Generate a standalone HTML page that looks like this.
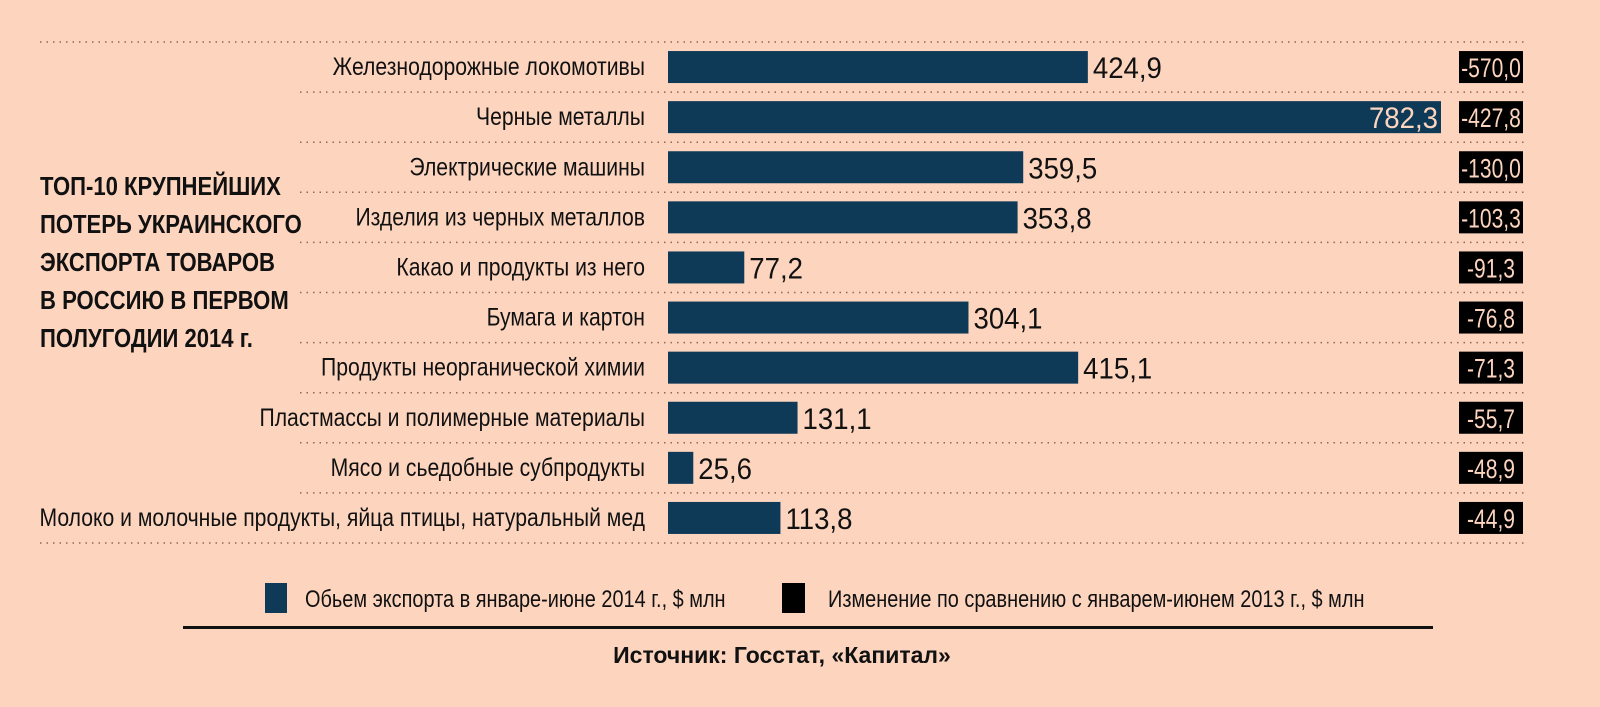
<!DOCTYPE html>
<html><head><meta charset="utf-8"><style>
html,body{margin:0;padding:0;background:#fdd5bf;overflow:hidden;width:1600px;height:707px;}
svg{display:block;font-family:"Liberation Sans",sans-serif;}
</style></head><body>
<svg id="c" width="1600" height="707" viewBox="0 0 1600 707">
<rect width="1600" height="707" fill="#fdd5bf"/>
<g font-weight="bold" font-size="26" fill="#111">
<text transform="translate(40,195) scale(0.85,1)">ТОП-10 КРУПНЕЙШИХ</text>
<text transform="translate(40,233) scale(0.85,1)">ПОТЕРЬ УКРАИНСКОГО</text>
<text transform="translate(40,271) scale(0.85,1)">ЭКСПОРТА ТОВАРОВ</text>
<text transform="translate(40,309) scale(0.85,1)">В РОССИЮ В ПЕРВОМ</text>
<text transform="translate(40,347) scale(0.85,1)">ПОЛУГОДИИ 2014 г.</text>
</g>
<g id="rows"></g>
<g>
<rect x="265" y="583" width="22" height="30" fill="#0e3a57"/>
<text transform="translate(305,607) scale(0.83,1)" font-size="24" fill="#111">Обьем экспорта в январе-июне 2014 г., $ млн</text>
<rect x="782" y="583" width="23" height="30" fill="#000"/>
<text transform="translate(828,607) scale(0.83,1)" font-size="24" fill="#111">Изменение по сравнению с январем-июнем 2013 г., $ млн</text>
</g>
<rect x="183" y="626" width="1250" height="3" fill="#111"/>
<text x="782" y="663" text-anchor="middle" font-size="23" font-weight="bold" fill="#111">Источник: Госстат, «Капитал»</text>
</svg>
<script>
const categories=["Железнодорожные локомотивы","Черные металлы","Электрические машины","Изделия из черных металлов","Какао и продукты из него","Бумага и картон","Продукты неорганической химии","Пластмассы и полимерные материалы","Мясо и сьедобные субпродукты","Молоко и молочные продукты, яйца птицы, натуральный мед"];
const exportValues=[424.9,782.3,359.5,353.8,77.2,304.1,415.1,131.1,25.6,113.8];
const changeValues=[-570.0,-427.8,-130.0,-103.3,-91.3,-76.8,-71.3,-55.7,-48.9,-44.9];
const NS="http://www.w3.org/2000/svg";
const g=document.getElementById('rows');
const x0=668, pxPerUnit=773/782.3;
const xScale=v=>x0+v*pxPerUnit;
const rowTop=42, rowH=50.1;
const yScale=i=>rowTop+i*rowH;
const fmt=v=>v.toFixed(1).replace('.',',');
function mk(tag,attrs){const e=document.createElementNS(NS,tag);for(const k in attrs)e.setAttribute(k,attrs[k]);g.appendChild(e);return e;}
for(let i=0;i<=categories.length;i++){
  const y=yScale(i);
  const x1=(i===0||i===categories.length)?40:300;
  const l=mk('line',{x1:x1,x2:1525,y1:y,y2:y,stroke:'#8a6a5a','stroke-width':1.5,'stroke-dasharray':'1.5 5'});
  
  
}
categories.forEach((c,i)=>{
  const yc=yScale(i)+rowH/2;
  const t=mk('text',{transform:`translate(645,${yc+8}) scale(0.847,1)`,'text-anchor':'end','font-size':25,fill:'#111'});
  t.textContent=c;
  
  
  const v=exportValues[i];
  const b=mk('rect',{x:x0,y:yc-16,width:xScale(v)-x0,height:32,fill:'#0e3a57'});
  
  
  const inside=xScale(v)>1300;
  const vt=mk('text',{transform:`translate(${inside?xScale(v)-3:xScale(v)+5},${yc+11}) scale(0.92,1)`,'text-anchor':inside?'end':'start','font-size':30,fill:inside?'#fdd5bf':'#111'});
  vt.textContent=fmt(v);
  
  
  const cb=mk('rect',{x:1459,y:yc-16,width:64,height:32,fill:'#000'});
  
  
  const ct=mk('text',{transform:`translate(1491,${yc+10}) scale(0.78,1)`,'text-anchor':'middle','font-size':27,fill:'#fdd5bf'});
  ct.textContent=fmt(changeValues[i]);
  
  
});
</script>
</body></html>
